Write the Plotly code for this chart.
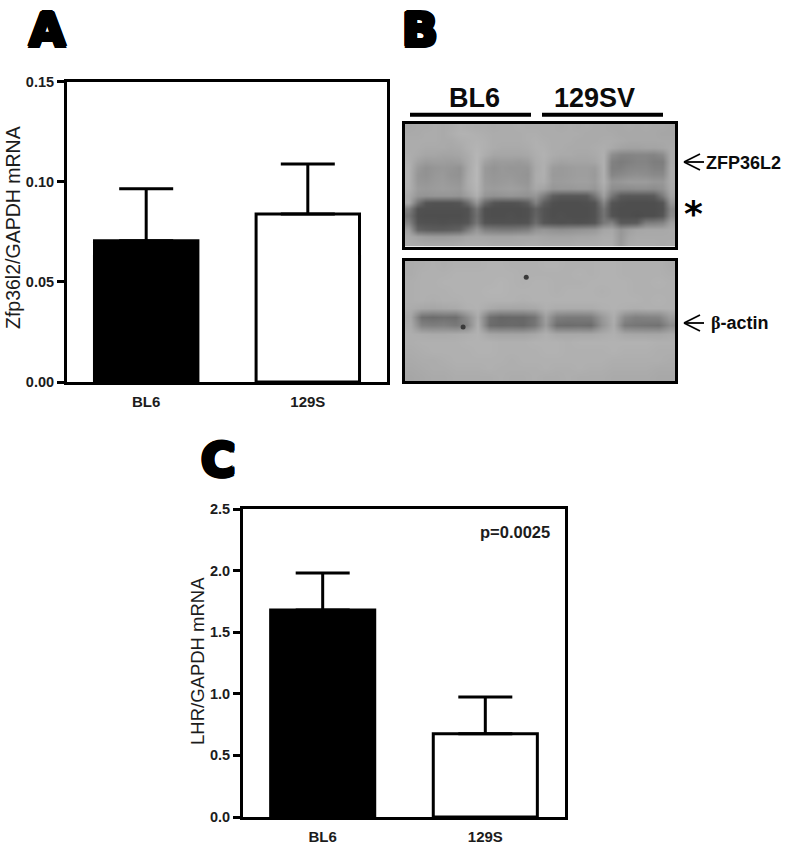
import plotly.graph_objects as go

W, H = 788, 844

# ---------- data ----------
groups = ["BL6", "129S"]
zfp_mean = [0.0705, 0.0838]
zfp_err = [0.026, 0.025]
zfp_ticks = [0.00, 0.05, 0.10, 0.15]
lhr_mean = [1.68, 0.675]
lhr_err = [0.30, 0.30]
lhr_ticks = [0.0, 0.5, 1.0, 1.5, 2.0, 2.5]
p_label = "p=0.0025"
bar_colors = ["#000000", "#ffffff"]

# blot densities (grey level) on a coarse grid
blot_top = [
 [168,170,170,172,170,172,176,174,172,172,170,172,172,174,172,172,172,172,170,172,170,172,170,170,168,168,170,168,170,168,168,166],
 [170,170,172,172,170,174,178,178,176,174,172,172,172,172,174,174,172,172,172,172,172,170,170,170,170,168,168,168,168,168,166,166],
 [172,172,172,172,170,170,174,176,178,176,172,172,172,172,174,176,174,172,172,172,170,170,170,172,172,170,168,168,168,168,168,168],
 [172,172,170,170,170,168,170,176,180,176,172,170,170,170,172,176,176,172,172,170,170,170,172,174,170,164,162,162,164,164,166,170],
 [174,170,166,166,164,164,166,172,182,174,166,166,166,166,168,174,178,172,170,170,168,168,170,176,142,132,132,134,134,132,140,170],
 [176,162,156,158,158,156,158,170,182,162,154,156,156,154,158,172,176,166,162,164,164,164,166,176,130,124,128,132,132,126,126,170],
 [178,154,146,150,152,150,146,168,184,154,148,152,150,150,150,170,176,156,154,156,158,158,156,176,128,128,134,136,136,130,130,172],
 [178,150,146,152,154,148,146,170,184,154,150,152,152,150,148,172,176,154,154,156,158,158,154,176,134,138,142,144,142,138,138,172],
 [178,152,150,154,156,152,150,172,184,156,152,154,156,152,150,172,174,156,156,158,160,160,156,176,150,152,156,156,156,152,152,172],
 [176,156,154,156,158,156,154,170,182,158,156,158,160,158,154,168,164,150,152,152,154,154,150,170,142,140,140,142,142,140,146,170],
 [170,150,148,150,150,150,148,160,176,150,146,148,150,148,146,150,126,94,88,88,88,90,118,160,118,90,88,88,88,90,124,164],
 [170,115,85,82,82,82,85,110,150,105,85,82,82,84,95,130,95,80,78,78,78,80,84,135,85,80,78,78,78,78,85,150],
 [130,82,80,80,80,80,80,82,118,80,78,78,78,78,80,98,84,78,78,78,78,78,82,118,82,78,78,78,78,78,82,135],
 [118,80,78,78,78,78,78,82,112,80,78,78,80,78,80,100,84,78,80,78,78,78,82,116,84,78,78,76,78,78,86,140],
 [134,84,82,82,80,82,82,86,118,84,82,82,82,82,84,108,86,82,80,82,80,82,86,122,130,90,90,92,125,126,132,160],
 [160,100,94,92,92,94,98,124,150,128,124,122,122,124,128,146,150,146,144,146,148,150,152,166,168,150,160,166,168,168,168,170],
 [170,162,158,156,156,158,160,166,168,166,164,164,164,166,166,168,166,164,164,164,166,166,168,172,172,152,166,170,170,170,170,170],
 [172,170,168,168,168,168,170,172,172,172,170,170,170,170,172,172,170,170,170,170,172,172,172,174,174,154,170,172,172,172,170,172],
]
blot_bottom = [
 [172,174,176,174,176,176,176,178,178,176,176,176,178,178,176,176,176,178,178,176,176,176,176,172],
 [172,176,176,176,178,178,178,178,178,178,176,176,176,176,176,178,176,178,178,176,176,176,176,174],
 [174,176,176,178,178,178,178,178,180,178,176,178,178,176,176,176,178,178,178,178,176,176,178,176],
 [174,176,176,176,178,178,178,180,180,178,178,178,178,176,178,178,178,176,178,178,176,176,176,176],
 [174,176,174,176,176,178,178,178,178,178,176,178,178,178,178,178,178,178,178,178,178,176,178,176],
 [172,168,166,168,170,176,178,170,166,166,166,168,176,172,172,172,172,176,178,176,174,176,176,176],
 [166,112,108,112,110,140,172,112,102,104,104,116,160,126,122,122,124,152,174,138,128,130,132,156],
 [170,130,126,128,122,132,176,108,104,106,104,118,156,110,108,110,108,146,172,122,118,116,114,140],
 [174,172,170,170,172,174,178,166,164,164,164,168,176,168,168,168,168,172,176,168,166,166,166,170],
 [174,176,176,176,176,178,178,178,176,176,176,178,178,178,176,178,178,178,178,178,178,178,176,176],
 [172,174,176,176,176,176,178,178,176,176,176,176,178,178,176,176,176,176,178,176,176,176,174,174],
 [170,172,172,174,176,176,176,176,176,174,176,176,176,176,176,176,176,176,174,174,174,174,174,172],
 [168,170,172,172,174,174,174,176,174,174,174,174,176,174,174,176,174,174,172,172,172,172,170,170],
 [166,168,170,170,172,172,172,172,174,172,172,174,172,172,174,172,172,172,170,170,170,170,168,168],
]
top_col = list(range(32))
top_row = list(range(18))
bot_col = list(range(24))
bot_row = list(range(14))
speck_col = [10.3, 4.7]
speck_row = [1.4, 7.2]

# ---------- layout helpers ----------
def px(x):
    return x / W

def py(y):
    return 1 - y / H

TICK = dict(family="Liberation Sans", size=14.5, color="#1c1c1c", weight="bold")
CAT = dict(family="Liberation Sans", size=15, color="#1c1c1c", weight="bold")
BIG = dict(family="DejaVu Sans", size=47, color="#000000", weight="bold",
           shadow="2px 0 0 #000,-2px 0 0 #000,0 2px 0 #000,0 -2px 0 #000,"
                  "1.5px 1.5px 0 #000,-1.5px 1.5px 0 #000,1.5px -1.5px 0 #000,-1.5px -1.5px 0 #000")
PNL = dict(family="Liberation Sans", size=27, color="#0c0c0c", weight="bold")
ANN = dict(family="Liberation Sans", size=18, color="#0c0c0c", weight="bold")

fig = go.Figure()

def bars(mean, err, xa, ya):
    fig.add_trace(go.Bar(
        x=groups, y=mean, xaxis=xa, yaxis=ya, showlegend=False,
        marker=dict(color=bar_colors, line=dict(color="#000000", width=3)),
        error_y=dict(type="data", symmetric=False, array=err,
                     arrayminus=[0, 0], color="#000000", thickness=3, width=27),
    ))

bars(zfp_mean, zfp_err, "x", "y")
bars(lhr_mean, lhr_err, "x2", "y2")

def blot(z, cols, rows, xa, ya):
    fig.add_trace(go.Heatmap(
        z=z, x=cols, y=rows, xaxis=xa, yaxis=ya, zmin=0, zmax=255,
        colorscale=[[0, "#000000"], [1, "#ffffff"]], showscale=False,
        zsmooth="best", hoverinfo="skip",
    ))

blot(blot_top, top_col, top_row, "x3", "y3")
blot(blot_bottom, bot_col, bot_row, "x4", "y4")
fig.add_trace(go.Scatter(x=speck_col, y=speck_row, xaxis="x4", yaxis="y4", mode="markers",
                         showlegend=False, hoverinfo="skip",
                         marker=dict(color="#3a3a3a", size=5, line=dict(width=0))))

def xaxis(dom):
    return dict(domain=[px(dom[0]), px(dom[1])], range=[-0.49, 1.49], type="category",
                showline=True, mirror=True, linecolor="#000000", linewidth=3,
                ticks="", tickfont=CAT, showgrid=False, zeroline=False, ticklabelstandoff=4)

def yaxis(dom, rng, ticks, fmt):
    return dict(domain=[py(dom[1]), py(dom[0])], range=rng, tickvals=ticks, tickformat=fmt,
                showline=True, mirror=True, linecolor="#000000", linewidth=3,
                ticks="outside", ticklen=7, tickwidth=2.5, tickcolor="#000000",
                tickfont=TICK, showgrid=False, zeroline=False)

def hidden(dom, rng):
    return dict(domain=dom, range=rng, showline=True, mirror=True, linecolor="#000000", linewidth=2.5,
                showticklabels=False, ticks="", showgrid=False, zeroline=False)

xa1 = xaxis((67, 387)); xa1["anchor"] = "y"
xa2 = xaxis((243, 565)); xa2["anchor"] = "y2"
ya1 = yaxis((81.5, 382), [0, 0.15], zfp_ticks, ".2f"); ya1["anchor"] = "x"
ya2 = yaxis((509, 817), [0, 2.5], lhr_ticks, ".1f"); ya2["anchor"] = "x2"

xa3 = hidden([px(404.5), px(675)], [-0.5, 31.5]); xa3["anchor"] = "y3"
ya3 = hidden([py(246.5), py(123.5)], [17.5, -0.5]); ya3["anchor"] = "x3"
xa4 = hidden([px(404.5), px(675)], [-0.5, 23.5]); xa4["anchor"] = "y4"
ya4 = hidden([py(381), py(261)], [13.5, -0.5]); ya4["anchor"] = "x4"

def text(s, x, y, font, **kw):
    return dict(text=s, x=px(x), y=py(y), xref="paper", yref="paper", showarrow=False,
                font=font, xanchor=kw.pop("xanchor", "center"), yanchor="middle", **kw)

annotations = [
    text("A", 47, 29, BIG), text("B", 420, 29, BIG), text("C", 219, 459, BIG),
    text("BL6", 474, 98, PNL), text("129SV", 594, 98, PNL),
    text("ZFP36L2", 704, 163, ANN, xanchor="left"),
    text('<span style="font-family:Liberation Serif">β</span>-actin', 709, 323, ANN, xanchor="left"),
    text("*", 693, 213, dict(family="DejaVu Sans", size=36, color="#000000", weight="bold")),
    text(p_label, 515, 532, dict(family="Liberation Sans", size=16.5, color="#1c1c1c", weight="bold")),
    text("Zfp36l2/GAPDH mRNA", 13, 228, dict(family="Liberation Sans", size=19.5, color="#1c1c1c"), textangle=-90),
    text("LHR/GAPDH mRNA", 197, 661, dict(family="Liberation Sans", size=18.5, color="#1c1c1c"), textangle=-90),
]

def seg(x0, y0, x1, y1, w):
    return dict(type="line", xref="paper", yref="paper", x0=px(x0), y0=py(y0), x1=px(x1), y1=py(y1),
                line=dict(color="#000000", width=w))

shapes = [seg(410, 114.7, 531, 114.7, 4), seg(542, 114.7, 663, 114.7, 4)]
for yy in (162, 323):
    shapes += [seg(684, yy, 704, yy, 1.8), seg(684, yy, 700, yy - 8, 1.8), seg(684, yy, 700, yy + 8, 1.8)]

fig.update_layout(
    width=W, height=H, margin=dict(l=0, r=0, t=0, b=0, autoexpand=False), autosize=False,
    paper_bgcolor="#ffffff", plot_bgcolor="#ffffff", bargap=0.36,
    xaxis=xa1, yaxis=ya1, xaxis2=xa2, yaxis2=ya2,
    xaxis3=xa3, yaxis3=ya3, xaxis4=xa4, yaxis4=ya4,
    annotations=annotations, shapes=shapes,
)

fig.write_html("out.html", post_script="document.body.style.margin='0';",
               config={"displayModeBar": False})
